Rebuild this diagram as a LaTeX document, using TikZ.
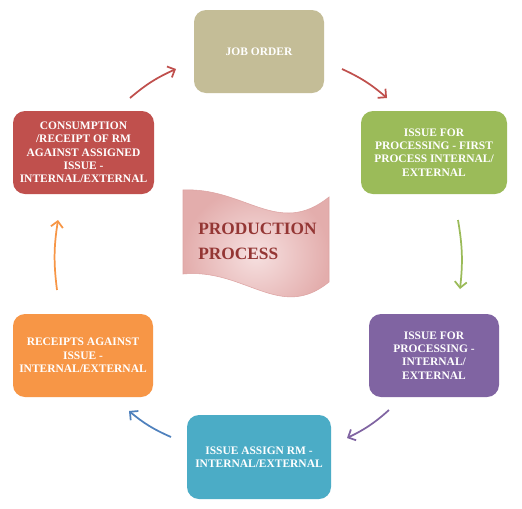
\documentclass[tikz,border=0pt]{standalone}
\usepackage{fontspec}
\setmainfont{Liberation Serif}
\usetikzlibrary{arrows.meta,shapes.misc}
\definecolor{cTan}{HTML}{C4BD97}
\definecolor{cRed}{HTML}{C0504D}
\definecolor{cGreen}{HTML}{9BBB59}
\definecolor{cPurple}{HTML}{8064A2}
\definecolor{cTeal}{HTML}{4BACC6}
\definecolor{cOrange}{HTML}{F79646}
\definecolor{cBlue}{HTML}{4F81BD}
\definecolor{cTitle}{HTML}{943634}
\definecolor{cPinkIn}{HTML}{F6E0E0}
\definecolor{cPinkOut}{HTML}{E3ADAC}
\definecolor{cPinkLine}{HTML}{DDA3A2}
\tikzset{
  box/.style={rounded corners=9pt, inner sep=0pt, align=center, text=white,
    font=\fontsize{8.6}{10}\selectfont\bfseries, minimum height=62.25pt},
  flow/.style={line width=1.3pt, -{Straight Barb[length=4.5pt,width=9pt]}, bend left=8}
}
\begin{document}
\begin{tikzpicture}[x=0.75pt,y=-0.75pt]
\useasboundingbox (0,0) rectangle (522,508);
\fill[white] (0,0) rectangle (522,508);

\node[box, fill=cTan, minimum width=97.5pt] (job) at (259,51.5) {JOB ORDER};
\node[box, fill=cRed, minimum width=105.75pt] (cons) at (83.5,152.5)
  {CONSUMPTION\\/RECEIPT OF RM\\AGAINST ASSIGNED\\ISSUE -\\INTERNAL/EXTERNAL};
\node[box, fill=cGreen, minimum width=109.5pt] (first) at (434,152.5)
  {ISSUE FOR\\PROCESSING - FIRST\\PROCESS INTERNAL/\\EXTERNAL};
\node[box, fill=cOrange, minimum width=105pt] (rec) at (83,355.5)
  {RECEIPTS AGAINST\\ISSUE -\\INTERNAL/EXTERNAL};
\node[box, fill=cPurple, minimum width=97.5pt] (proc) at (434,355.5)
  {ISSUE FOR\\PROCESSING -\\INTERNAL/\\EXTERNAL};
\node[box, fill=cTeal, minimum width=108pt, minimum height=63pt] (assign) at (259,457)
  {ISSUE ASSIGN RM -\\INTERNAL/EXTERNAL};

% banner
\path[draw=cPinkLine, line width=0.4pt, inner color=cPinkIn, outer color=cPinkOut]
  (183,190) .. controls (245,187) and (278,238) .. (329,197)
  -- (329,282) .. controls (280,322) and (245,268) .. (183,274) -- cycle;
\node[anchor=west, align=left, text=cTitle, inner sep=0pt,
  font=\fontsize{13}{18.75}\selectfont\bfseries] (title) at (198,241)
  {PRODUCTION\\PROCESS};

% connectors
\coordinate (a1s) at (130,98);  \coordinate (a1e) at (176,69);
\coordinate (a2s) at (342,69);  \coordinate (a2e) at (387,98);
\coordinate (a3s) at (458,220); \coordinate (a3e) at (460,289);
\coordinate (a4s) at (389,410); \coordinate (a4e) at (347,438);
\coordinate (a5s) at (171,437); \coordinate (a5e) at (129,411);
\coordinate (a6s) at (57,290);  \coordinate (a6e) at (58,220);
\draw[flow, cRed] (a1s) to (a1e);
\draw[flow, cRed] (a2s) to (a2e);
\draw[flow, cGreen] (a3s) to (a3e);
\draw[flow, cPurple] (a4s) to (a4e);
\draw[flow, cBlue] (a5s) to (a5e);
\draw[flow, cOrange] (a6s) to (a6e);
\end{tikzpicture}
\end{document}
